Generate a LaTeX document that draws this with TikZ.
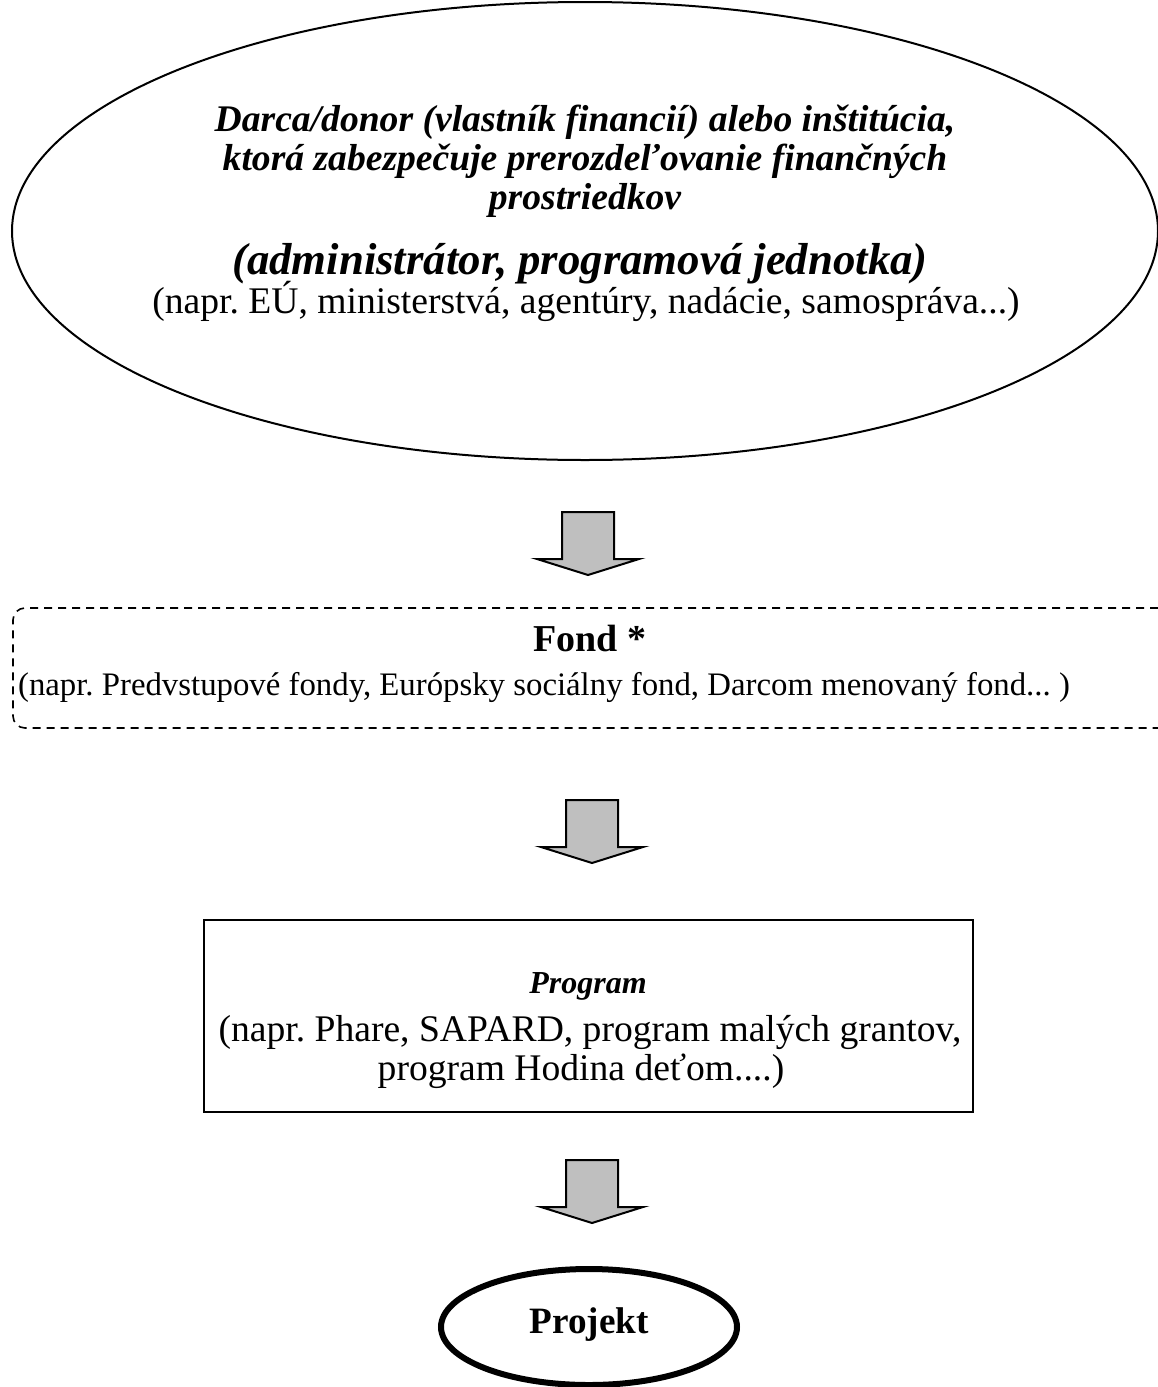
\documentclass[tikz,border=0pt]{standalone}
\usepackage{fontspec}
\setmainfont{Liberation Serif}
\usetikzlibrary{shapes.geometric}
\frenchspacing
\begin{document}
\begin{tikzpicture}[x=0.5pt,y=-0.5pt,
  txt/.style={inner sep=0pt, anchor=base, font=\fontsize{18.8}{22}\selectfont},
  bi/.style={txt, font=\fontsize{18.8}{22}\selectfont\bfseries\itshape},
  arrowfill/.style={draw=black, fill=gray!50, line width=1pt, line join=miter},
  blockdown/.pic={
    \draw[arrowfill] (-26,0) -- (26,0) -- (26,47) -- (51,47) -- (0,63)
      -- (-51,47) -- (-26,47) -- cycle;
  }]
\useasboundingbox (0,0) rectangle (1157,1387);

% top ellipse: the donor / distributing institution
\node[draw, ellipse, line width=1pt, minimum width=573pt, minimum height=229pt,
      inner sep=0pt] (donor) at (585,231) {};
\node[bi] (d1) at (585,131) {Darca/donor (vlastník financií) alebo inštitúcia,};
\node[bi] (d2) at (585,170) {ktorá zabezpečuje prerozdeľovanie finančných};
\node[bi] (d3) at (585,209) {prostriedkov};
\node[bi, font=\fontsize{22.4}{26}\selectfont\bfseries\itshape] (d4) at (580,274)
      {(administrátor, programová jednotka)};
\node[txt] (d5) at (586,313) {(napr. EÚ, ministerstvá, agentúry, nadácie, samospráva...)};

\pic (a1) at (588,512) {blockdown};

% fund box (dashed, runs off the right edge)
\node[draw, dashed, dash pattern=on 4pt off 3pt, rounded corners=6pt, line width=0.8pt,
      minimum width=578.5pt, minimum height=60pt, inner sep=0pt] (fond) at (591.5,668) {};
\node[txt, font=\fontsize{19}{22}\selectfont\bfseries] (f1) at (590,651) {Fond *};
\node[txt, font=\fontsize{16.4}{19}\selectfont] (f2) at (544,695)
      {(napr. Predvstupové fondy, Európsky sociálny fond, Darcom menovaný fond... )};

\pic (a2) at (592,800) {blockdown};

% program box
\node[draw, line width=1pt, minimum width=384.5pt, minimum height=96pt, inner sep=0pt]
      (program) at (588.5,1016) {};
\node[bi, font=\fontsize{16}{19}\selectfont\bfseries\itshape] (p1) at (588,993) {Program};
\node[txt] (p2) at (590,1041) {(napr. Phare, SAPARD, program malých grantov,};
\node[txt] (p3) at (581,1080) {program Hodina deťom....)};

\pic (a3) at (592,1160) {blockdown};

% project ellipse
\node[draw, ellipse, line width=3pt, minimum width=148pt, minimum height=58pt,
      inner sep=0pt] (projekt) at (589,1327) {};
\node[txt, font=\fontsize{18.6}{22}\selectfont\bfseries] (pj) at (589,1333) {Projekt};
\end{tikzpicture}
\end{document}
